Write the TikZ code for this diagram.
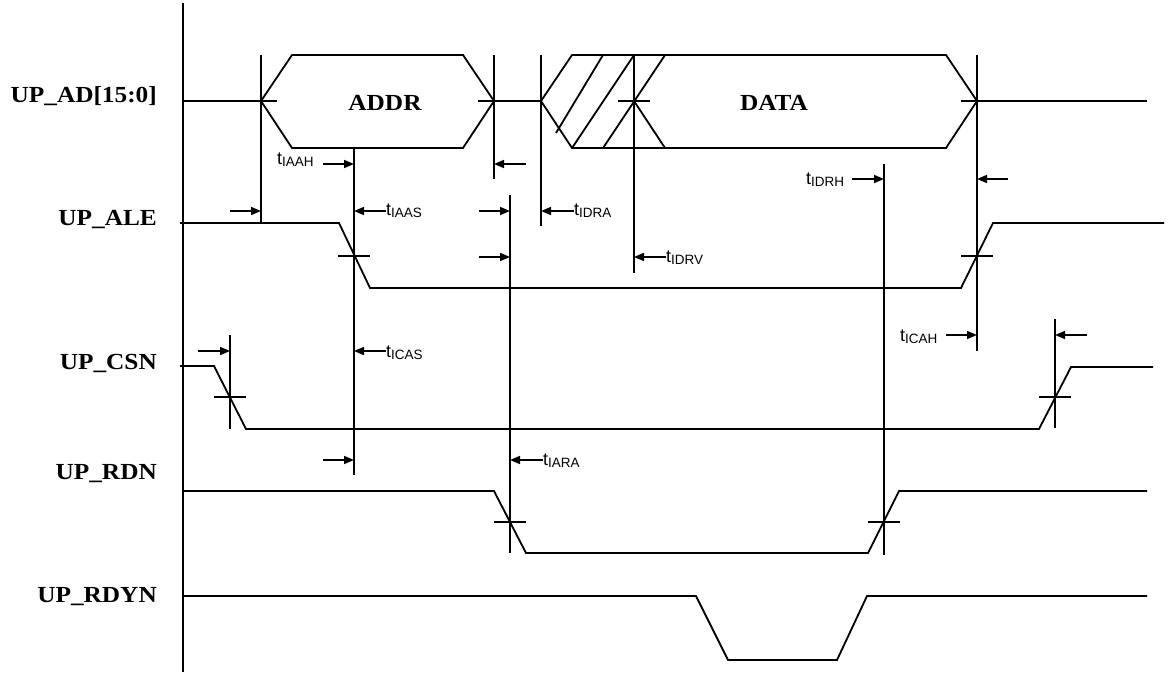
\documentclass[tikz,border=0pt]{standalone}
\usepackage{fontspec}
\setmainfont{Liberation Serif}
\newfontfamily\lsans{Liberation Sans}
\usetikzlibrary{arrows.meta}
\newcommand\tlab[1]{{\fontsize{18}{18}\selectfont t}\raisebox{-2pt}{\fontsize{13.5}{13.5}\selectfont #1}}
\tikzset{
  wave/.style={line width=1.8pt, line join=miter},
  vmark/.style={line width=1.8pt},
  tickline/.style={line width=1.8pt},
  arr/.style={line width=1.6pt, -{Triangle[length=10pt,width=8pt]}},
  siglabel/.style={anchor=base east, inner sep=0pt, font=\bfseries\fontsize{23}{23}\selectfont},
  buslabel/.style={anchor=center, inner sep=0pt, font=\bfseries\fontsize{23}{23}\selectfont},
  tlabel/.style={anchor=base west, inner sep=0pt, font=\lsans}
}
\begin{document}
\begin{tikzpicture}[x=1pt,y=-1pt]
\useasboundingbox (0,0) rectangle (1172,672);
\fill[white] (0,0) rectangle (1172,672);

% axis
\draw[wave] (183,3) -- (183,672);

% signal labels
\node[siglabel] (lad)   at (157,102) {\scalebox{1.1}[1]{UP\_AD[15:0]}};
\node[siglabel] (lale)  at (157,225) {\scalebox{1.1}[1]{UP\_ALE}};
\node[siglabel] (lcsn)  at (157,369) {\scalebox{1.1}[1]{UP\_CSN}};
\node[siglabel] (lrdn)  at (157,479) {\scalebox{1.1}[1]{UP\_RDN}};
\node[siglabel] (lrdyn) at (157,602) {\scalebox{1.1}[1]{UP\_RDYN}};

% UP_AD bus
\draw[wave] (183,101) -- (261,101);
\draw[wave] (261,101) -- (292,55) -- (463,55) -- (494,101) -- (463,148) -- (292,148) -- cycle;
\draw[wave] (494,101) -- (541,101);
\draw[wave] (541,101) -- (572,55) -- (946,55) -- (977,101) -- (946,148) -- (572,148) -- cycle;
\draw[wave] (977,101) -- (1147,101);
% hatching of unknown region
\draw[wave] (556,133) -- (603,55);
\draw[wave] (572,148) -- (634,55);
\draw[wave] (603,148) -- (665,55);
\draw[wave] (634,101) -- (665,148);
\node[buslabel] (addr) at (385,103) {\scalebox{1.1}[1]{ADDR}};
\node[buslabel] (data) at (774,103) {\scalebox{1.1}[1]{DATA}};

% UP_ALE
\draw[wave] (180,223) -- (339,223) -- (370,288) -- (961,288) -- (993,223) -- (1164,223);
% UP_CSN
\draw[wave] (180,366) -- (214,366) -- (246,429) -- (1039,429) -- (1071,367) -- (1153,367);
% UP_RDN
\draw[wave] (183,491) -- (494,491) -- (526,553) -- (868,553) -- (899,491) -- (1147,491);
% UP_RDYN
\draw[wave] (183,596) -- (696,596) -- (728,660) -- (837,660) -- (867,596) -- (1147,596);

% vertical timing marks
\coordinate (v1a) at (261,55);  \coordinate (v1b) at (261,223);
\coordinate (v2a) at (354,148); \coordinate (v2b) at (354,475);
\coordinate (v3a) at (494,55);  \coordinate (v3b) at (494,179);
\coordinate (v4a) at (510,195); \coordinate (v4b) at (510,553);
\coordinate (v5a) at (541,55);  \coordinate (v5b) at (541,226);
\coordinate (v6a) at (634,55);  \coordinate (v6b) at (634,273);
\coordinate (v7a) at (884,164); \coordinate (v7b) at (884,555);
\coordinate (v8a) at (977,55);  \coordinate (v8b) at (977,351);
\coordinate (v9a) at (230,335); \coordinate (v9b) at (230,429);
\coordinate (v10a) at (1055,319); \coordinate (v10b) at (1055,428);
\foreach \v in {1,...,10} \draw[vmark] (v\v a) -- (v\v b);

% crossing ticks
\foreach \x/\y in {261/101,494/101,634/101,977/101,354/256,977/256,230/397,1055/397,510/522,884/522}
  \draw[tickline] (\x-16,\y) -- (\x+16,\y);

% timing arrows
\draw[arr] (230,211) -- (261,211);
\draw[arr] (323,164) -- (354,164);
\draw[arr] (386,211) -- (354,211);
\draw[arr] (526,164) -- (494,164);
\draw[arr] (479,211) -- (510,211);
\draw[arr] (574,211) -- (541,211);
\draw[arr] (852,179) -- (884,179);
\draw[arr] (1008,179) -- (977,179);
\draw[arr] (479,257) -- (510,257);
\draw[arr] (666,257) -- (634,257);
\draw[arr] (198,351) -- (230,351);
\draw[arr] (386,351) -- (354,351);
\draw[arr] (323,460) -- (354,460);
\draw[arr] (543,460) -- (510,460);
\draw[arr] (946,335) -- (977,335);
\draw[arr] (1087,335) -- (1055,335);

% timing labels
\node[tlabel] (tiaah) at (277,164) {\tlab{IAAH}};
\node[tlabel] (tiaas) at (386,215) {\tlab{IAAS}};
\node[tlabel] (tidra) at (574,215) {\tlab{IDRA}};
\node[tlabel] (tidrh) at (806,184) {\tlab{IDRH}};
\node[tlabel] (tidrv) at (666,262) {\tlab{IDRV}};
\node[tlabel] (ticas) at (386,357) {\tlab{ICAS}};
\node[tlabel] (tiara) at (543,465) {\tlab{IARA}};
\node[tlabel] (ticah) at (900,341) {\tlab{ICAH}};
\end{tikzpicture}
\end{document}
